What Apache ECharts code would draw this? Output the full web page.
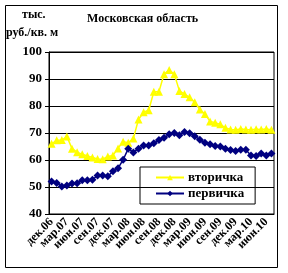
<!DOCTYPE html>
<html>
<head>
<meta charset="utf-8">
<script src="https://cdn.jsdelivr.net/npm/echarts@6/dist/echarts.min.js"></script>
<style>
  html, body { margin: 0; padding: 0; background: #fff; }
  #chart { width: 288px; height: 273px; }
</style>
</head>
<body>
<div id="chart"></div>
<script>
const months = [
  'дек.06', 'янв.07', 'фев.07', 'мар.07', 'апр.07', 'май.07', 'июн.07', 'июл.07', 'авг.07',
  'сен.07', 'окт.07', 'ноя.07', 'дек.07', 'янв.08', 'фев.08', 'мар.08', 'апр.08', 'май.08',
  'июн.08', 'июл.08', 'авг.08', 'сен.08', 'окт.08', 'ноя.08', 'дек.08', 'янв.09', 'фев.09',
  'мар.09', 'апр.09', 'май.09', 'июн.09', 'июл.09', 'авг.09', 'сен.09', 'окт.09', 'ноя.09',
  'дек.09', 'янв.10', 'фев.10', 'мар.10', 'апр.10', 'май.10', 'июн.10', 'июл.10',
];

// вторичный рынок
const secondary = [
  66.0, 67.3, 67.4, 68.7, 64.2, 62.9, 62.1, 61.5, 60.9, 60.4, 60.3, 61.3, 61.7, 64.3, 66.8,
  66.4, 68.0, 75.0, 77.7, 78.4, 85.3, 85.3, 91.8, 93.3, 91.8, 85.6, 84.4, 83.2, 81.4, 78.7,
  77.0, 74.3, 73.8, 73.2, 71.9, 71.3, 71.2, 71.5, 71.3, 71.2, 71.4, 71.3, 71.5, 71.2,
];

// первичный рынок
const primary = [
  52.0, 51.5, 50.2, 50.6, 51.3, 51.4, 52.5, 52.5, 52.7, 54.3, 54.3, 54.0, 55.8, 56.9, 60.1,
  64.2, 62.8, 64.2, 65.4, 65.4, 66.2, 67.4, 68.2, 69.5, 70.0, 69.2, 70.4, 69.9, 68.8, 67.5,
  66.4, 65.8, 65.2, 65.0, 64.2, 63.7, 63.3, 63.8, 63.8, 61.7, 61.5, 62.4, 61.7, 62.4,
];

const font = 'Liberation Serif, Times New Roman, serif';
const chart = echarts.init(document.getElementById('chart'));

chart.setOption({
  animation: false,
  backgroundColor: '#fff',
  graphic: [
    {
      type: 'rect',
      shape: { x: 5.5, y: 5.5, width: 272, height: 262 },
      style: { fill: 'none', stroke: '#000', lineWidth: 1 },
      z: -1,
    },
    {
      type: 'text',
      left: 22, top: 9,
      style: { text: 'тыс.', font: 'bold 12px ' + font, fill: '#000' },
    },
    {
      type: 'text',
      left: 6, top: 27,
      style: { text: 'руб./кв. м', font: 'bold 12px ' + font, fill: '#000' },
    },
    {
      type: 'text',
      left: 87, top: 13,
      style: { text: 'Московская область', font: 'bold 12px ' + font, fill: '#000' },
    },
  ],
  grid: {
    left: 49, top: 52, width: 225, height: 162,
    show: true, borderColor: '#000', borderWidth: 1,
  },
  legend: {
    orient: 'vertical',
    left: 140, top: 167,
    padding: [4, 11, 4, 15],
    itemGap: 3,
    itemWidth: 28, itemHeight: 7,
    borderColor: '#000', borderWidth: 1,
    textStyle: { fontFamily: font, fontWeight: 'bold', fontSize: 13, color: '#000', padding: [0, 0, 0, -1] },
    data: ['вторичка', 'первичка'],
  },
  xAxis: {
    type: 'category',
    data: months,
    boundaryGap: true,
    axisLine: { lineStyle: { color: '#000' } },
    axisTick: { interval: 2, length: 4, lineStyle: { color: '#000' } },
    axisLabel: {
      interval: 0, rotate: 45, margin: 6,
      showMinLabel: true, showMaxLabel: true, hideOverlap: false,
      formatter: (value, index) => (index % 3 === 0 ? value : ''),
      fontFamily: font, fontWeight: 'bold', fontSize: 12, color: '#000',
    },
  },
  yAxis: {
    type: 'value',
    min: 40, max: 100, interval: 10,
    axisLine: { show: true, lineStyle: { color: '#000' } },
    axisTick: { show: true, length: 4, lineStyle: { color: '#000' } },
    splitLine: { lineStyle: { color: '#000' } },
    axisLabel: {
      margin: 7,
      fontFamily: font, fontWeight: 'bold', fontSize: 13, color: '#000',
    },
  },
  series: [
    {
      name: 'вторичка',
      type: 'line',
      data: secondary,
      symbol: 'triangle',
      symbolSize: 8,
      showAllSymbol: true,
      color: '#ffff00',
      lineStyle: { width: 1.5, color: '#ffff00' },
    },
    {
      name: 'первичка',
      type: 'line',
      data: primary,
      symbol: 'diamond',
      symbolSize: 8,
      showAllSymbol: true,
      color: '#000080',
      lineStyle: { width: 1.5, color: '#000080' },
    },
  ],
});
</script>
</body>
</html>
